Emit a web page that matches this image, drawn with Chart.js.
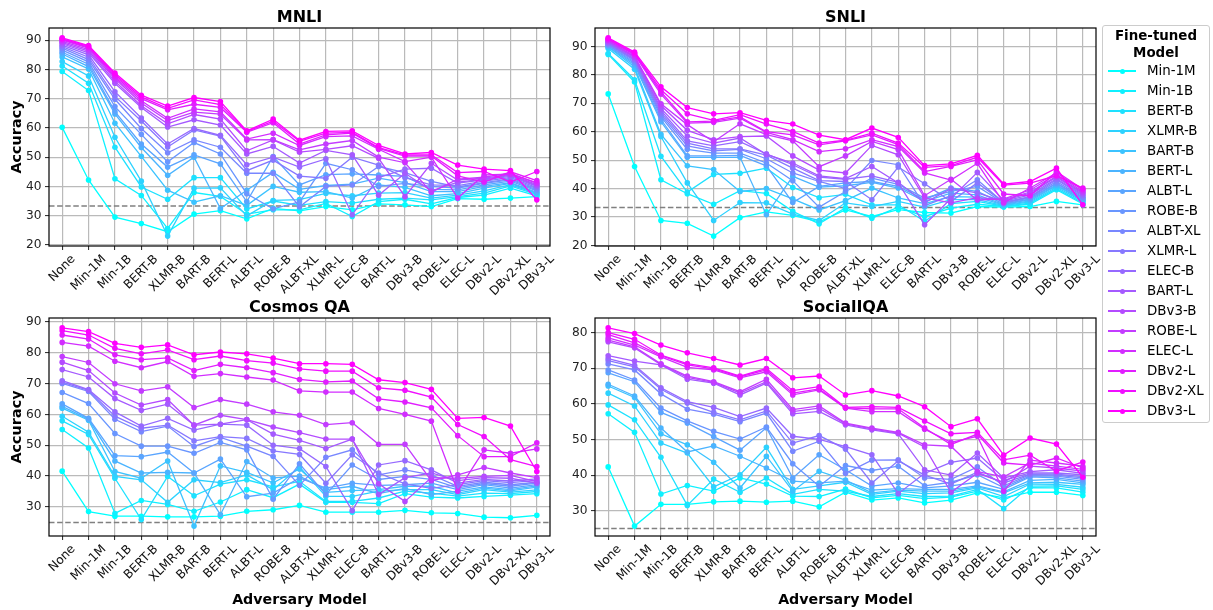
<!DOCTYPE html>
<html>
<head>
<meta charset="utf-8">
<script src="https://cdn.jsdelivr.net/npm/chart.js@4.4.1/dist/chart.umd.min.js"></script>
<style>
  html, body { margin: 0; padding: 0; background: #fff; }
  #wrap { position: relative; width: 1213px; height: 610px; overflow: hidden; font-family: "DejaVu Sans", sans-serif; }
  #wrap canvas { position: absolute; left: 0; top: 0; }
  #legend { position: absolute; left: 1102px; top: 25px; width: 108px; height: 398px; box-sizing: border-box;
            border: 1px solid #cccccc; border-radius: 3px; background: rgba(255,255,255,0.85); }
  #legend .lt { position: absolute; left: 0; top: 1px; width: 100%; text-align: center; font-weight: bold;
                font-size: 13.4px; line-height: 17px; color: #000; }
  #legend .row { position: absolute; left: 0; width: 100%; height: 20px; }
  #legend .ln { position: absolute; left: 5px; width: 28px; height: 1.5px; top: 9.25px; }
  #legend .dot { position: absolute; left: 16.5px; width: 5px; height: 5px; border-radius: 50%; top: 7.5px; }
  #legend .tx { position: absolute; left: 44px; top: 0; font-size: 13.4px; line-height: 20px; color: #000; white-space: nowrap; }
</style>
</head>
<body>
<div id="wrap">
  <canvas id="c0" width="1213" height="610"></canvas>
  <canvas id="c1" width="1213" height="610"></canvas>
  <canvas id="c2" width="1213" height="610"></canvas>
  <canvas id="c3" width="1213" height="610"></canvas>
  <div id="legend"><div class="lt">Fine-tuned<br>Model</div></div>
</div>
<script>
// ---------------- DATA ----------------
const adversaryModels = ['None','Min-1M','Min-1B','BERT-B','XLMR-B','BART-B','BERT-L','ALBT-L','ROBE-B','ALBT-XL',
                         'XLMR-L','ELEC-B','BART-L','DBv3-B','ROBE-L','ELEC-L','DBv2-L','DBv2-XL','DBv3-L'];
const fineTunedModels = ['Min-1M','Min-1B','BERT-B','XLMR-B','BART-B','BERT-L','ALBT-L','ROBE-B','ALBT-XL',
                         'XLMR-L','ELEC-B','BART-L','DBv3-B','ROBE-L','ELEC-L','DBv2-L','DBv2-XL','DBv3-L'];

// rows = fine-tuned model (legend order), columns = adversary model
const mnliAcc = [
  [60.2,42.2,29.5,27.3,24.5,30.5,31.7,28.9,32.5,31.6,33.1,32.0,34.0,33.7,33.1,35.8,35.6,36.0,36.5],
  [79.3,72.8,42.6,36.9,25.6,37.9,36.6,30.5,32.0,32.0,34.2,29.7,34.8,35.6,34.0,36.2,37.0,39.4,36.8],
  [81.2,75.3,53.4,39.8,35.6,43.0,43.0,32.3,35.0,33.5,34.8,34.3,35.6,36.0,35.4,36.5,37.7,40.2,37.2],
  [82.7,77.8,56.8,41.8,23.0,39.4,39.5,29.9,35.2,35.5,37.6,36.8,37.7,37.9,36.0,37.0,38.5,40.6,37.5],
  [84.3,80.2,61.6,50.3,38.7,34.6,36.8,33.5,40.0,38.0,38.2,36.0,40.5,39.7,36.8,37.5,39.4,41.0,37.7],
  [85.3,81.0,64.8,53.3,43.8,50.0,32.4,38.7,44.8,39.0,40.3,40.8,42.8,41.3,38.2,38.2,40.0,41.3,38.0],
  [85.9,81.8,65.6,54.5,46.6,50.8,47.7,34.8,50.2,40.5,44.0,44.3,43.9,43.4,39.0,38.8,40.5,41.8,38.5],
  [86.6,82.6,67.3,57.8,48.4,55.0,51.1,37.5,32.3,34.7,47.9,45.7,40.0,41.0,40.0,39.4,41.0,42.2,38.8],
  [87.3,83.4,69.8,59.8,51.5,55.9,53.4,44.5,44.5,33.0,40.0,40.5,46.8,44.7,41.7,39.8,41.3,42.6,39.2],
  [87.8,84.2,70.8,62.4,53.5,59.3,57.2,45.4,49.0,43.5,42.8,50.0,47.3,43.0,40.5,40.3,41.8,43.0,39.6],
  [88.3,85.0,72.4,63.4,54.5,59.8,57.5,47.4,50.0,46.6,49.4,30.3,43.0,45.9,46.2,41.1,42.2,43.4,40.0],
  [88.8,85.7,75.3,67.0,60.3,62.8,61.0,51.1,53.7,48.0,52.3,50.8,37.0,44.5,38.5,41.5,42.5,43.8,40.3],
  [89.2,86.3,76.0,67.6,61.4,64.6,63.0,52.2,55.9,51.7,52.7,53.9,49.6,36.5,47.9,42.2,42.8,44.0,40.6],
  [89.6,86.8,76.8,68.5,62.5,65.4,64.7,55.9,56.0,52.5,54.5,55.7,50.0,48.1,38.0,42.5,43.2,44.5,41.0],
  [90.0,87.3,77.3,69.3,63.3,66.5,65.5,56.2,58.2,54.0,57.0,57.3,52.7,48.5,50.0,36.0,43.9,44.2,41.3],
  [90.3,87.6,77.8,70.0,66.2,68.1,67.0,58.5,61.8,54.5,57.6,58.2,53.0,50.4,50.4,43.6,41.5,45.0,42.0],
  [90.5,87.9,78.3,70.6,66.7,69.6,68.0,58.8,62.3,55.4,58.2,58.5,53.3,50.8,50.8,44.7,45.1,41.5,45.1],
  [90.8,88.2,78.8,71.2,67.5,70.4,69.0,59.0,63.0,55.8,58.8,59.0,54.0,51.1,51.6,47.3,45.9,45.4,35.4]
];

const snliAcc = [
  [73.3,47.8,28.8,27.8,23.3,29.8,31.8,30.6,28.3,32.5,30.2,32.6,31.6,31.4,33.7,33.5,33.7,35.5,34.3],
  [87.2,77.5,43.1,38.2,34.5,39.3,38.3,32.0,27.6,33.3,29.6,33.5,30.2,33.1,34.5,33.7,34.5,39.6,34.6],
  [87.5,78.3,51.4,38.8,45.0,45.4,47.2,40.4,36.8,38.0,34.3,34.3,28.5,34.7,35.5,33.8,34.9,40.0,35.0],
  [89.3,82.0,58.3,42.0,28.8,35.1,35.0,31.0,28.8,35.0,33.7,35.5,33.5,36.1,36.1,34.0,35.3,40.5,35.5],
  [89.8,82.8,59.1,48.0,46.7,39.0,40.0,36.4,32.5,35.8,40.2,36.7,34.7,37.2,37.0,34.2,35.7,41.0,35.8],
  [90.0,83.5,63.5,51.0,51.0,51.0,30.8,44.3,40.5,41.0,42.2,40.2,35.5,38.4,37.8,34.4,36.1,41.3,36.1],
  [90.3,84.0,64.3,51.5,51.5,51.7,48.0,35.1,40.8,42.0,42.5,40.8,36.1,40.2,39.0,34.6,36.4,41.7,36.4],
  [90.5,84.5,65.3,53.8,52.5,52.5,49.0,42.8,33.5,39.0,43.7,41.5,36.7,39.0,40.8,34.9,36.7,42.0,36.7],
  [90.8,85.0,66.0,55.0,53.3,53.8,50.5,45.5,42.5,40.0,49.9,48.4,34.0,37.5,43.1,35.0,37.0,42.5,37.0],
  [91.0,85.3,66.7,56.0,54.0,54.0,51.8,47.2,42.8,42.5,36.1,47.6,41.7,35.5,42.0,35.2,37.2,43.1,37.4],
  [91.3,85.6,67.5,56.8,55.0,56.5,52.2,48.4,44.0,43.3,44.5,42.2,35.0,40.0,38.5,35.5,37.8,43.5,37.8],
  [91.5,86.0,68.2,58.5,56.0,57.8,52.0,49.0,44.5,43.5,47.8,42.0,27.3,36.5,45.7,35.8,38.4,44.0,38.2],
  [91.8,86.3,69.2,60.5,57.2,58.3,58.5,51.5,46.5,45.5,55.2,51.9,36.7,35.0,36.8,36.1,38.8,44.3,38.6],
  [92.0,86.6,69.8,62.5,56.5,62.8,59.0,56.8,47.7,51.5,56.6,53.7,37.5,43.3,36.0,36.4,39.5,45.0,39.0],
  [92.3,87.0,73.2,63.0,63.3,64.8,59.8,57.2,53.0,54.0,57.2,54.8,45.5,43.0,48.9,35.0,40.2,45.5,39.5],
  [92.5,87.3,74.0,63.5,63.7,65.2,60.0,58.9,55.4,56.8,58.9,55.5,46.0,47.8,50.1,38.1,37.5,46.0,39.8],
  [92.7,87.6,74.8,66.3,64.0,66.0,62.7,60.1,56.0,57.0,59.5,56.0,47.5,48.1,51.0,41.2,41.9,44.5,40.2],
  [93.0,88.0,75.8,68.5,66.3,66.7,64.0,62.7,58.8,57.2,61.3,58.0,48.1,48.7,51.7,41.6,42.5,47.2,34.3]
];

const cosmosAcc = [
  [41.6,28.5,27.0,27.0,26.8,26.8,27.0,28.6,29.1,30.5,28.3,28.3,28.3,28.9,28.1,27.9,26.7,26.5,27.3],
  [55.1,49.1,27.9,32.1,30.8,28.6,31.6,35.6,33.0,37.4,31.5,31.5,31.1,34.3,33.2,32.9,33.4,33.8,34.3],
  [57.9,53.5,39.3,25.9,39.9,33.6,37.4,38.8,36.5,38.3,31.8,31.8,32.9,35.1,34.5,33.5,34.5,34.3,35.0],
  [59.4,54.2,39.9,38.8,31.5,38.8,37.9,40.4,35.6,43.0,33.4,33.4,35.1,35.6,35.6,34.0,35.6,34.8,35.5],
  [62.0,58.1,41.5,39.3,44.9,23.8,43.3,41.2,37.8,42.3,34.7,35.3,35.6,36.7,36.7,34.5,36.1,35.2,36.4],
  [62.6,58.4,44.9,41.0,41.2,41.0,27.5,44.7,39.4,40.0,35.6,36.7,34.3,36.0,34.0,35.1,36.5,35.6,36.8],
  [63.4,58.7,46.6,46.3,47.8,41.0,45.5,33.3,34.5,39.4,36.1,37.7,37.0,37.2,37.7,35.6,37.2,36.1,37.2],
  [67.1,63.5,53.8,49.7,49.7,47.4,50.9,48.5,32.5,44.0,34.0,43.6,38.9,39.9,38.9,36.2,37.6,36.7,37.7],
  [70.0,67.4,58.4,54.4,56.2,49.6,52.5,49.7,46.4,37.0,46.1,48.5,40.4,42.0,40.4,36.7,38.0,37.2,38.0],
  [70.4,67.8,59.4,55.5,56.5,51.4,52.8,52.2,48.2,47.0,37.7,46.9,41.0,37.5,36.0,37.2,38.5,37.9,38.6],
  [70.9,68.0,60.8,56.2,58.7,54.9,56.8,56.5,50.0,48.9,43.1,28.8,43.6,45.0,42.0,37.7,38.9,38.4,39.1],
  [74.5,72.1,65.1,61.3,63.3,56.5,56.8,58.3,53.6,51.6,48.9,52.0,34.0,39.5,41.0,38.5,39.5,39.3,37.7],
  [76.9,74.2,66.9,63.0,64.8,56.5,59.7,58.3,55.9,54.1,52.0,52.0,37.5,31.8,39.5,39.3,39.9,40.2,38.2],
  [78.7,76.8,69.9,67.6,68.9,62.2,64.8,63.3,60.8,59.7,56.7,57.3,50.3,50.3,38.5,40.4,42.8,41.0,39.5],
  [83.3,82.1,77.2,75.1,77.1,72.3,73.2,72.1,71.1,67.6,67.2,67.2,61.9,60.0,57.8,35.1,48.5,47.4,48.8],
  [85.7,84.4,79.3,77.7,78.3,74.2,76.2,75.1,73.5,71.3,70.5,70.8,65.0,64.0,62.1,53.1,46.3,46.3,50.8],
  [87.1,85.7,81.4,79.6,80.9,77.7,78.9,77.4,76.6,74.7,74.0,74.0,68.6,67.8,65.6,56.7,52.8,45.3,43.1],
  [88.0,86.8,83.0,81.7,82.5,79.3,80.2,79.6,78.2,76.4,76.4,76.2,71.2,70.3,68.1,58.7,59.0,56.2,41.5]
];

const socialAcc = [
  [42.3,25.7,31.8,31.8,32.5,32.7,32.4,32.7,31.1,35.2,33.0,33.6,32.2,33.0,35.0,33.6,35.2,35.2,34.3],
  [57.2,52.0,34.7,37.1,35.5,39.2,37.5,34.1,34.0,36.1,33.6,34.3,33.4,33.8,35.5,33.0,36.5,36.4,35.2],
  [59.7,55.5,45.0,31.5,38.9,35.2,39.2,34.6,36.0,35.5,34.0,34.8,34.0,34.1,36.0,30.6,36.9,37.0,36.0],
  [63.0,59.4,49.0,46.2,36.7,40.1,47.8,36.0,37.0,38.0,34.6,35.5,34.8,35.0,36.4,34.0,37.5,37.4,36.6],
  [65.0,61.8,51.6,48.5,43.6,36.4,45.3,35.5,41.1,38.6,35.0,35.8,35.5,35.5,36.7,35.0,37.8,38.0,37.4],
  [65.5,62.2,53.2,46.5,48.2,45.3,42.0,38.3,37.8,38.3,35.8,36.2,36.0,36.0,37.0,35.3,38.5,38.8,37.8],
  [68.7,66.2,57.6,54.6,50.8,47.0,53.3,39.2,45.7,41.5,36.9,37.8,36.4,37.0,38.0,36.0,39.5,39.2,38.3],
  [69.5,66.7,58.8,55.2,52.3,50.1,53.5,43.2,36.9,42.7,41.3,42.5,37.0,38.0,40.1,36.5,39.8,39.7,38.8],
  [71.2,69.5,62.8,58.5,57.1,55.0,57.4,46.7,49.5,40.5,44.2,44.3,39.2,38.8,42.3,37.0,40.1,40.0,39.2],
  [72.1,70.4,64.1,60.2,57.6,55.5,58.0,49.0,51.1,47.3,37.8,44.0,40.0,37.5,40.8,37.8,40.3,40.3,39.6],
  [72.7,70.8,64.5,60.6,59.0,56.4,58.8,50.9,50.0,48.0,45.7,34.8,40.5,43.6,44.8,38.5,40.6,40.6,40.1],
  [73.5,72.0,70.9,66.9,65.8,62.5,65.8,57.2,57.9,54.1,52.7,51.6,41.5,40.0,46.2,39.2,41.0,41.5,40.5],
  [77.4,75.7,71.0,67.4,66.0,63.0,66.2,57.8,58.8,54.4,53.0,51.8,47.9,35.2,40.5,38.0,42.5,42.0,41.1],
  [77.9,76.0,71.2,67.8,66.2,63.4,66.9,58.4,59.4,54.6,53.2,52.0,48.5,48.1,41.0,39.5,43.4,42.5,41.6],
  [78.5,76.5,73.2,70.2,69.5,67.3,69.0,62.5,63.9,58.8,57.8,57.8,52.9,49.2,50.9,35.5,44.2,43.4,42.5],
  [79.4,77.1,73.5,70.9,69.8,67.6,69.5,63.0,64.2,58.9,58.6,58.6,53.2,48.6,51.5,43.4,42.8,44.8,42.0],
  [80.0,78.1,73.7,71.3,70.1,67.8,69.9,63.7,64.8,59.0,59.2,59.0,55.2,51.6,52.0,44.3,45.6,41.1,43.7],
  [81.3,79.7,76.5,74.3,72.7,70.9,72.7,67.3,67.8,62.5,63.7,62.2,59.2,53.6,55.8,45.6,50.4,48.7,39.4]
];

const panelTitles = ['MNLI', 'SNLI', 'Cosmos QA', 'SocialIQA'];
const chanceLevels = [33.33, 33.33, 25, 25];
const yTickValues = [
  [20,30,40,50,60,70,80,90],
  [20,30,40,50,60,70,80,90],
  [30,40,50,60,70,80,90],
  [30,40,50,60,70,80]
];
const yAxisTitle = 'Accuracy';
const xAxisTitle = 'Adversary Model';
const legendTitle = ['Fine-tuned', 'Model'];

// ---------------- STYLE / LAYOUT ----------------
const FONT = '"DejaVu Sans", sans-serif';
const TICK_SIZE = 12.2;
const GRID = '#bababa';
const panelAreas = [
  { left: 49,  top: 28,  right: 550,  bottom: 246, yTitle: true,  xTitle: false },
  { left: 595, top: 28,  right: 1096, bottom: 246, yTitle: false, xTitle: false },
  { left: 49,  top: 318, right: 550,  bottom: 536, yTitle: true,  xTitle: true },
  { left: 595, top: 318, right: 1096, bottom: 536, yTitle: false, xTitle: true }
];
const allData = [mnliAcc, snliAcc, cosmosAcc, socialAcc];

function coolColor(i, n) {
  const t = i / (n - 1);
  return 'rgb(' + Math.round(255 * t) + ',' + Math.round(255 * (1 - t)) + ',255)';
}

const decor = {
  id: 'decor',
  beforeDatasetsDraw(chart, args, o) {
    const { ctx, chartArea: ca, scales: { y } } = chart;
    const py = y.getPixelForValue(o.chance);
    ctx.save();
    ctx.beginPath();
    ctx.setLineDash([5.5, 2.6]);
    ctx.strokeStyle = '#808080';
    ctx.lineWidth = 1.5;
    ctx.moveTo(ca.left, py);
    ctx.lineTo(ca.right, py);
    ctx.stroke();
    ctx.restore();
  },
  afterDraw(chart, args, o) {
    const { ctx, chartArea: ca, scales: { x } } = chart;
    ctx.save();
    ctx.strokeStyle = '#000';
    ctx.lineWidth = 1.2;
    ctx.strokeRect(ca.left, ca.top, ca.right - ca.left, ca.bottom - ca.top);
    ctx.fillStyle = '#000';
    // panel title
    ctx.font = 'bold 16px ' + FONT;
    ctx.textAlign = 'center';
    ctx.textBaseline = 'alphabetic';
    ctx.fillText(o.title, (ca.left + ca.right) / 2, ca.top - 6);
    // rotated x tick labels (centered like matplotlib)
    ctx.font = TICK_SIZE + 'px ' + FONT;
    ctx.fillStyle = '#111';
    const h = TICK_SIZE * 1.1;
    chart.data.labels.forEach((label, i) => {
      const px = x.getPixelForTick(i);
      const w = ctx.measureText(label).width;
      const cy = ca.bottom + 6.5 + (w + h) * Math.SQRT1_2 / 2;
      ctx.save();
      ctx.translate(px, cy);
      ctx.rotate(-Math.PI / 4);
      ctx.textAlign = 'center';
      ctx.textBaseline = 'middle';
      ctx.fillText(label, 0, 0);
      ctx.restore();
    });
    ctx.fillStyle = '#000';
    if (o.yTitle) {
      ctx.save();
      ctx.font = 'bold 14.4px ' + FONT;
      ctx.translate(17.5, (ca.top + ca.bottom) / 2);
      ctx.rotate(-Math.PI / 2);
      ctx.textAlign = 'center';
      ctx.textBaseline = 'middle';
      ctx.fillText(yAxisTitle, 0, 0);
      ctx.restore();
    }
    if (o.xTitle) {
      ctx.font = 'bold 14.2px ' + FONT;
      ctx.textAlign = 'center';
      ctx.textBaseline = 'middle';
      ctx.fillText(xAxisTitle, (ca.left + ca.right) / 2, 600);
    }
    ctx.restore();
  }
};

const Y_W = 46, X_H = 50;
allData.forEach((acc, p) => {
  const area = panelAreas[p];
  const flat = acc.flat();
  const dmin = Math.min(...flat), dmax = Math.max(...flat);
  const m = (dmax - dmin) * 0.05;
  const n = fineTunedModels.length;
  const ticks = yTickValues[p];
  new Chart(document.getElementById('c' + p), {
    type: 'line',
    data: {
      labels: adversaryModels,
      datasets: fineTunedModels.map((name, i) => ({
        label: name,
        data: acc[i],
        borderColor: coolColor(i, n),
        backgroundColor: coolColor(i, n),
        borderWidth: 1.3,
        pointRadius: 2.8,
        pointHoverRadius: 2.8,
        pointBorderWidth: 0,
        tension: 0,
        fill: false,
        order: n - 1 - i
      }))
    },
    options: {
      responsive: false,
      animation: false,
      devicePixelRatio: 1,
      events: [],
      layout: { padding: { left: area.left - Y_W, top: area.top, right: 1213 - area.right, bottom: 610 - area.bottom - X_H } },
      plugins: {
        legend: { display: false },
        tooltip: { enabled: false },
        title: { display: false },
        decor: { title: panelTitles[p], chance: chanceLevels[p], yTitle: area.yTitle, xTitle: area.xTitle }
      },
      scales: {
        x: {
          type: 'category',
          offset: true,
          grid: { color: GRID, lineWidth: 1.2, drawTicks: true, tickLength: 4, tickColor: '#222', tickWidth: 1 },
          border: { display: false },
          ticks: { display: false },
          afterFit(s) { s.height = X_H; }
        },
        y: {
          type: 'linear',
          min: dmin - m,
          max: dmax + m,
          bounds: 'data',
          grid: { color: GRID, lineWidth: 1.2, drawTicks: true, tickLength: 4, tickColor: '#222', tickWidth: 1 },
          border: { display: false },
          ticks: { font: { family: FONT, size: TICK_SIZE }, color: '#222', padding: 3.5 },
          afterBuildTicks(s) { s.ticks = ticks.map(v => ({ value: v })); },
          afterFit(s) { s.width = Y_W; }
        }
      }
    },
    plugins: [decor]
  });
});

// ---------------- LEGEND ----------------
const legendEl = document.getElementById('legend');
legendEl.querySelector('.lt').innerHTML = legendTitle.join('<br>');
fineTunedModels.forEach((name, i) => {
  const c = coolColor(i, fineTunedModels.length);
  const row = document.createElement('div');
  row.className = 'row';
  row.style.top = (35 + 20 * i) + 'px';
  row.innerHTML = '<div class="ln" style="background:' + c + '"></div>' +
                  '<div class="dot" style="background:' + c + '"></div>' +
                  '<div class="tx">' + name + '</div>';
  legendEl.appendChild(row);
});
</script>
</body>
</html>
